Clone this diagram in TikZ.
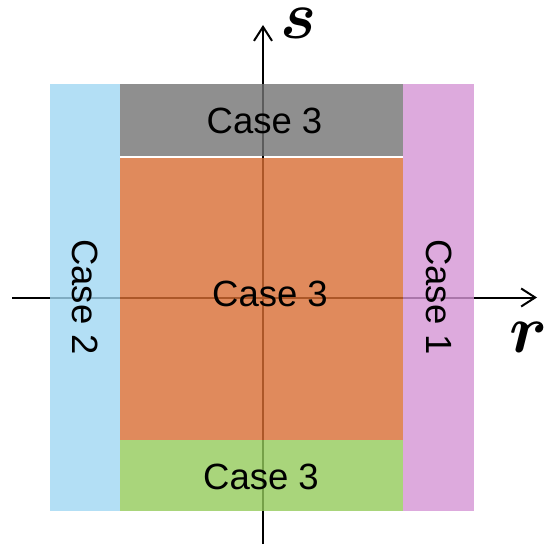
\documentclass[tikz,border=0pt]{standalone}
\usepackage{fontspec}
\newfontfamily\casefont{Liberation Sans}
\usetikzlibrary{arrows.meta}
\definecolor{cblue}{RGB}{160,215,243}
\definecolor{cgray}{RGB}{115,115,115}
\definecolor{corange}{RGB}{216,109,51}
\definecolor{cgreen}{RGB}{147,202,90}
\definecolor{cpink}{RGB}{213,149,213}
\tikzset{
  region/.style={fill opacity=0.8},
  axis/.style={line width=2pt,-{Straight Barb[length=14pt,width=18pt,line width=2pt]}},
  caselabel/.style={font=\casefont\fontsize{36.5}{40}\selectfont,inner sep=0pt,anchor=center},
  axlabel/.style={font=\normalsize\boldmath,inner sep=0pt,scale=6.8}
}
\begin{document}
\begin{tikzpicture}[x=1pt,y=-1pt]
\useasboundingbox (0,0) rectangle (547,548);
% axes
\coordinate (xl) at (12,297.5);
\coordinate (xr) at (537,297.5);
\coordinate (yb) at (263,544);
\coordinate (yt) at (263,25);
\draw[axis] (xl) -- (xr);
\draw[axis] (yb) -- (yt);
% regions
\fill[region,cblue] (50,84) rectangle (120,511);
\fill[region,cgray] (120,84) rectangle (403,156);
\fill[region,corange] (120,158) rectangle (403,440);
\fill[region,cgreen] (120,440) rectangle (403,511);
\fill[region,cpink] (403,84) rectangle (474,511);
% labels
\node[caselabel] (c3top) at (264.5,121) {Case 3};
\node[caselabel] (c3mid) at (270,294) {Case 3};
\node[caselabel] (c3bot) at (261,477) {Case 3};
\node[caselabel,rotate=-90] (c2) at (85,297) {Case 2};
\node[caselabel,rotate=-90] (c1) at (439,297) {Case 1};
\node[axlabel] (slab) at (299,23) {$s$};
\node[axlabel] (rlab) at (529,337) {$r$};
\end{tikzpicture}
\end{document}
